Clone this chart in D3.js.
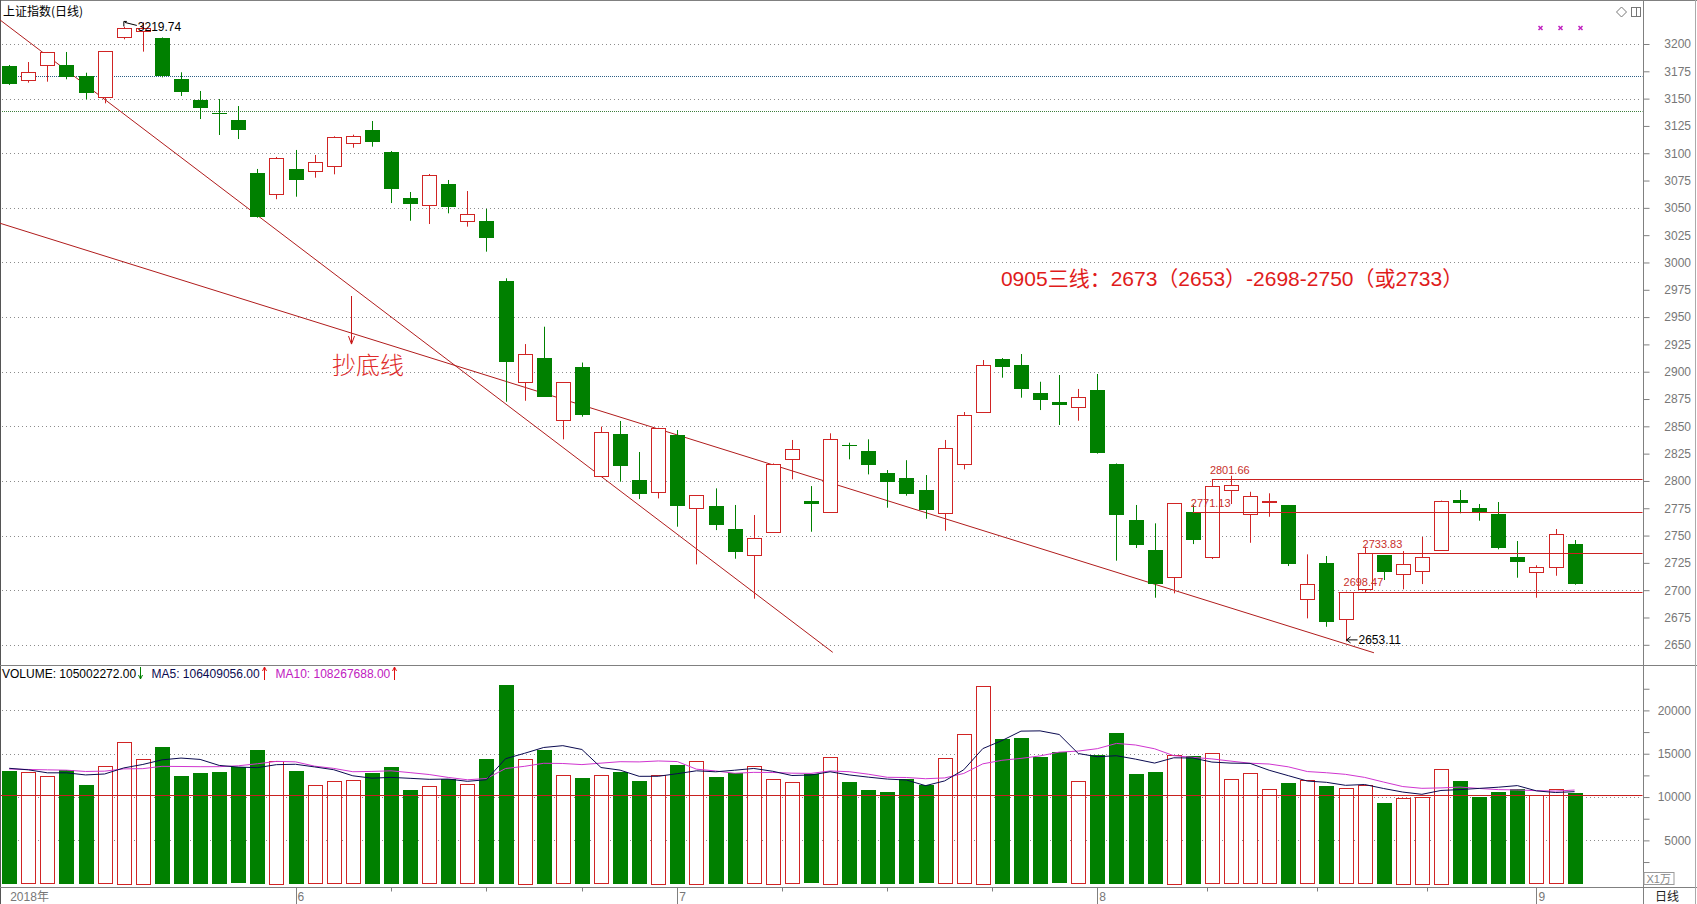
<!DOCTYPE html>
<html>
<head>
<meta charset="utf-8">
<script src="https://cdn.jsdelivr.net/npm/d3@7/dist/d3.min.js"></script>
<style>
body {margin:0; background:#fff;}
svg {display:block; font-family:"Liberation Sans", Arial, "Noto Sans CJK SC", sans-serif;}
</style>
</head>
<body>
<svg id="chart" width="1697" height="904"></svg>
<script>
// daily candles, 2018-05-11 .. 2018-09-05
const openP  = [3179.9,3166.8,3180.5,3180.8,3170.7,3151.2,3206.1,3211.9,3205.2,3167.7,
                3148.7,3136.5,3130.4,3081.9,3062.4,3085.6,3083.1,3088.1,3109.1,3121.3,
                3101.1,3059.0,3052.9,3071.8,3038.2,3038.0,2983.0,2889.9,2912.5,2855.5,
                2904.1,2804.5,2842.9,2800.8,2790.5,2842.0,2774.9,2777.0,2755.9,2731.9,
                2752.9,2819.8,2781.6,2771.3,2833.0,2827.4,2807.3,2802.7,2791.7,2770.4,
                2815.2,2862.8,2911.6,2906.1,2880.8,2872.5,2867.4,2883.2,2815.5,2764.2,
                2736.8,2711.8,2771.3,2730.1,2791.4,2769.4,2780.8,2778.0,2691.3,2724.6,
                2673.3,2700.8,2731.9,2715.4,2717.3,2736.5,2782.5,2775.2,2769.7,2730.6,
                2716.3,2720.9,2742.0];
const highP  = [3180.8,3183.5,3192.7,3192.7,3173.7,3193.6,3215.8,3219.74,3206.0,3174.1,
                3157.0,3149.6,3143.2,3085.6,3096.6,3103.0,3098.4,3115.5,3117.0,3129.5,
                3102.0,3064.5,3081.0,3075.5,3065.4,3049.0,2985.5,2925.3,2941.2,2890.3,
                2908.4,2849.7,2854.9,2826.5,2848.7,2846.6,2786.8,2793.2,2778.0,2768.8,
                2816.0,2837.5,2795.3,2843.6,2835.0,2838.1,2810.0,2819.0,2805.4,2837.5,
                2863.1,2910.7,2912.5,2916.2,2890.8,2897.0,2884.2,2897.9,2816.0,2778.0,
                2761.2,2779.5,2778.0,2801.66,2804.8,2790.1,2788.7,2778.0,2732.8,2731.3,
                2698.6,2739.8,2732.0,2735.8,2748.7,2782.0,2791.7,2778.9,2780.7,2745.0,
                2722.8,2756.0,2745.9];
const lowP   = [3162.5,3164.6,3165.5,3167.7,3149.4,3145.7,3204.3,3193.0,3169.5,3152.4,
                3131.3,3116.7,3113.0,3041.0,3057.9,3060.2,3077.6,3080.7,3105.0,3106.0,
                3054.4,3038.2,3035.2,3045.0,3032.8,3009.9,2872.5,2873.4,2877.0,2838.1,
                2858.8,2804.5,2799.3,2783.4,2784.0,2758.1,2723.6,2755.0,2728.8,2692.2,
                2752.9,2801.5,2753.5,2771.3,2819.8,2806.0,2775.5,2786.5,2765.4,2754.4,
                2810.6,2862.8,2894.5,2876.2,2864.9,2851.2,2855.1,2825.0,2727.0,2738.6,
                2693.1,2697.1,2742.2,2728.5,2778.9,2743.4,2767.2,2722.1,2674.2,2666.5,
                2653.11,2697.7,2709.3,2700.8,2705.6,2736.0,2770.4,2763.6,2737.4,2711.4,
                2693.1,2713.2,2705.0];
const closeP = [3163.7,3174.1,3192.4,3170.1,3155.4,3193.6,3214.4,3214.4,3170.1,3155.4,
                3141.7,3135.5,3121.3,3041.9,3095.4,3075.5,3091.7,3114.9,3115.8,3110.6,
                3067.5,3053.5,3080.1,3050.5,3044.4,3022.7,2908.6,2915.9,2877.1,2890.3,
                2860.2,2844.5,2813.9,2787.7,2848.7,2777.0,2786.8,2759.9,2735.2,2747.5,
                2815.2,2829.2,2778.6,2838.1,2831.9,2814.9,2799.3,2788.3,2773.4,2829.9,
                2860.4,2906.1,2904.6,2883.9,2874.7,2870.1,2876.5,2825.8,2769.1,2741.6,
                2705.6,2779.5,2745.3,2795.3,2796.3,2785.9,2781.3,2723.9,2705.4,2670.2,
                2698.47,2733.83,2716.0,2724.2,2730.1,2781.6,2779.5,2770.4,2738.9,2726.0,
                2720.9,2751.1,2705.0];
// volume, x1万
const volume = [13006,12855,12394,13121,11390,13548,16352,14390,15775,12429,
                12775,12890,13432,15429,14160,13006,11355,11817,11932,12775,
                13467,10813,11240,12082,11471,14390,22930,14390,15429,12509,
                12198,12509,12890,11852,12544,13698,14160,12313,12775,13548,
                12082,11701,12625,14621,11736,10813,10582,12082,11355,14467,
                17240,22815,16698,16814,14621,15163,11817,14852,17391,12659,
                12890,14852,14737,15048,12048,12740,10894,11621,11932,11309,
                11009,11355,9313,9890,10005,13236,11852,10005,10582,10928,
                10201,10894,10500];
// sessions before the first visible candle (only feed the moving averages)
const prevVolume = [13400,12800,13500,12900,13175,13730,14119,13121,12609];

const months = [
  {label:"2018年", start:0},
  {label:"6", start:15, len:20},
  {label:"7", start:35, len:22},
  {label:"8", start:57, len:23},
  {label:"9", start:80}
];
const priceTicks = d3.range(2650, 3201, 25);
const volTicks = d3.range(2500, 22501, 2500);
const refLines = [{p:3170.4, color:"#2d5f86"}, {p:3138.4, color:"#3d7f3d"}];

// drawn analysis: [index1, price1, index2, price2]
const trendLines = [[-0.48, 3222.0, 43.14, 2643.1], [-0.48, 3035.9, 71.49, 2642.7]];
const levels = [{p:2801.66, from:63, at:63}, {p:2771.13, from:62, at:62},
                {p:2733.83, from:70.63, at:71}, {p:2698.47, from:69.63, at:70}];
const volLevel = 10200;
const headText = "0905三线：2673（2653）-2698-2750（或2733）";
const headPos = {i:51.95, p:2978.4};
const bottomText = "抄底线";
const bottomPos = {i:16.91, p:2897.9};
const arrowPos = {i:17.9, p1:2969.3, p2:2925.3};

const W = 1697, H = 904;
const axisX = 1643.5, priceBottom = 665.5, volBottom = 887.5;

const svg = d3.select("#chart");
const x = d3.scaleLinear().domain([0, 82]).range([9.2, 1574.6]);
const yP = d3.scaleLinear().domain([2650, 3200]).range([644.8, 44]);
const yV = d3.scaleLinear().domain([0, 20000]).range([883.7, 710.4]);
const px = v => Math.round(v) + 0.5;

const RED = "#d02424", GREEN = "#008000", GRID = "#8c8c8c", AXIS = "#808080";
const candles = openP.map((o, i) => ({i, o, h: highP[i], l: lowP[i], c: closeP[i], v: volume[i]}));
const up = d => d.c > d.o;

// frame
svg.append("rect").attr("width", W).attr("height", H).attr("fill", "#fff");
const frame = svg.append("g").attr("stroke", AXIS).attr("fill", "none");
frame.append("line").attr("x1", 0).attr("x2", W).attr("y1", 0.5).attr("y2", 0.5);
frame.append("line").attr("x1", 0.5).attr("x2", 0.5).attr("y1", 0).attr("y2", H).attr("stroke", "#555");
frame.append("line").attr("x1", axisX).attr("x2", axisX).attr("y1", 0).attr("y2", H);
frame.append("line").attr("x1", 0).attr("x2", W).attr("y1", priceBottom).attr("y2", priceBottom);
frame.append("line").attr("x1", 0).attr("x2", W).attr("y1", volBottom).attr("y2", volBottom);
frame.append("line").attr("x1", W - 1.5).attr("x2", W - 1.5).attr("y1", 0).attr("y2", H).attr("stroke", "#aaa");

// grid
const grid = svg.append("g").attr("stroke-dasharray", "1,3").attr("stroke", GRID);
grid.selectAll("line.pg").data(priceTicks.filter(d => d % 50 === 0))
  .enter().append("line")
  .attr("x1", 2).attr("x2", axisX - 2)
  .attr("y1", d => px(yP(d))).attr("y2", d => px(yP(d)));
grid.selectAll("line.vg").data([5000, 10000, 15000, 20000])
  .enter().append("line").attr("class", "vg")
  .attr("x1", 2).attr("x2", axisX - 2)
  .attr("y1", d => px(yV(d))).attr("y2", d => px(yV(d)));
svg.append("g").selectAll("line").data(refLines).enter().append("line")
  .attr("x1", 2).attr("x2", axisX - 1)
  .attr("y1", d => px(yP(d.p))).attr("y2", d => px(yP(d.p)))
  .attr("stroke", d => d.color).attr("stroke-dasharray", "1,1");

// axes
const priceAxis = d3.axisRight(yP).tickValues(priceTicks).tickSize(6).tickPadding(15).tickSizeOuter(0)
  .tickFormat(d3.format("d"));
const gpa = svg.append("g").attr("transform", `translate(${axisX},0)`).call(priceAxis);
const volAxis = d3.axisRight(yV).tickValues(volTicks).tickSize(6).tickPadding(8).tickSizeOuter(0)
  .tickFormat(d => d % 5000 ? "" : d);
const gva = svg.append("g").attr("transform", `translate(${axisX},0)`).call(volAxis);
[gpa, gva].forEach(g => {
  g.select(".domain").remove();
  g.selectAll("line").attr("stroke", AXIS);
  g.selectAll("text").attr("fill", "#777").style("font-size", "12px")
    .attr("text-anchor", "end").attr("x", 1691 - axisX);
});

// date strip
const dg = svg.append("g");
months.forEach(m => {
  if (m.start > 0) dg.append("line").attr("x1", px(x(m.start))).attr("x2", px(x(m.start)))
    .attr("y1", volBottom).attr("y2", H).attr("stroke", AXIS);
  dg.append("text").attr("x", x(m.start) + (m.start ? 2 : 1)).attr("y", 901)
    .attr("fill", "#777").style("font-size", "12px").text(m.label);
  if (m.len) d3.range(1, 4).forEach(k => {
    const t = px(x(m.start + k * m.len / 4));
    dg.append("line").attr("x1", t).attr("x2", t).attr("y1", volBottom).attr("y2", volBottom + 4)
      .attr("stroke", AXIS);
  });
});
dg.append("text").attr("x", 1655).attr("y", 901).attr("fill", "#222").style("font-size", "12px").text("日线");
dg.append("rect").attr("x", axisX + 0.5).attr("y", 872.5).attr("width", 30).attr("height", 12)
  .attr("fill", "#fff").attr("stroke", "#999");
dg.append("text").attr("x", axisX + 3).attr("y", 883).attr("fill", "#888").style("font-size", "11px").text("X1万");

// trend lines
svg.append("g").selectAll("line").data(trendLines).enter().append("line")
  .attr("x1", d => x(d[0])).attr("y1", d => yP(d[1]))
  .attr("x2", d => x(d[2])).attr("y2", d => yP(d[3]))
  .attr("stroke", "#b01c1c").attr("stroke-width", 1);

// candles
const cg = svg.append("g");
cg.selectAll("line.wick").data(candles).enter().append("line")
  .attr("x1", d => px(x(d.i))).attr("x2", d => px(x(d.i)))
  .attr("y1", d => yP(d.h)).attr("y2", d => yP(d.l))
  .attr("stroke", d => up(d) ? RED : GREEN);
cg.selectAll("rect.body").data(candles).enter().append("rect")
  .attr("x", d => up(d) ? Math.round(x(d.i)) - 6.5 : Math.round(x(d.i)) - 7)
  .attr("width", d => up(d) ? 14 : 15)
  .attr("y", d => up(d) ? px(yP(d.c)) : Math.round(yP(d.o)))
  .attr("height", d => Math.max(1, Math.round(Math.abs(yP(d.o) - yP(d.c)))))
  .attr("fill", d => up(d) ? "#fff" : GREEN)
  .attr("stroke", d => up(d) ? RED : "none");

// levels
const lg = svg.append("g");
lg.selectAll("line").data(levels).enter().append("line")
  .attr("x1", d => x(d.from)).attr("x2", axisX - 1)
  .attr("y1", d => px(yP(d.p))).attr("y2", d => px(yP(d.p)))
  .attr("stroke", "#cc2020");
lg.selectAll("text").data(levels).enter().append("text")
  .attr("x", d => x(d.at) - 2).attr("y", d => yP(d.p) - 5.5)
  .attr("fill", "#c8302c").style("font-size", "11px").text(d => d.p.toFixed(2));

// high / low markers
const hiI = d3.maxIndex(highP), loI = d3.minIndex(lowP);
const hx = x(hiI), hy = yP(highP[hiI]);
svg.append("path").attr("d", `M${hx - 19},${hy + 4}V${hy - 1}h3M${hx - 18},${hy}L${hx - 6},${hy + 3}`)
  .attr("stroke", "#000").attr("fill", "none");
svg.append("text").attr("x", hx - 5).attr("y", hy + 9).style("font-size", "12px").attr("fill", "#000")
  .text(highP[hiI].toFixed(2));
const lx = x(loI), ly = yP(lowP[loI]) - 1.5;
svg.append("path").attr("d", `M${lx + 1},${ly}H${lx + 12}M${lx + 5},${ly - 3}L${lx + 1},${ly}L${lx + 5},${ly + 3}`)
  .attr("stroke", "#000").attr("fill", "none");
svg.append("text").attr("x", lx + 13).attr("y", ly + 4.5).style("font-size", "12px").attr("fill", "#000")
  .text(lowP[loI].toFixed(2));

// annotations
svg.append("text").attr("x", x(headPos.i)).attr("y", yP(headPos.p))
  .attr("fill", "#e01b1b").style("font-size", "21px").text(headText);
svg.append("text").attr("x", x(bottomPos.i)).attr("y", yP(bottomPos.p))
  .attr("fill", "#e02a2a").style("font-size", "24px").style("font-weight", "300")
  .style("font-family", "'Noto Sans CJK SC', sans-serif").text(bottomText);
const ax = px(x(arrowPos.i)), ay1 = yP(arrowPos.p1), ay2 = yP(arrowPos.p2);
svg.append("path").attr("d", `M${ax},${ay1}V${ay2}M${ax - 3},${ay2 - 8}L${ax},${ay2}L${ax + 3},${ay2 - 8}`)
  .attr("stroke", "#c81818").attr("fill", "none");

// volume bars
const vg = svg.append("g");
vg.selectAll("rect").data(candles).enter().append("rect")
  .attr("x", d => up(d) ? Math.round(x(d.i)) - 6.5 : Math.round(x(d.i)) - 7)
  .attr("width", d => up(d) ? 14 : 15)
  .attr("y", d => up(d) ? px(yV(d.v)) : Math.round(yV(d.v)))
  .attr("height", d => Math.round(yV(0) - yV(d.v)))
  .attr("fill", d => up(d) ? "#fff" : GREEN)
  .attr("stroke", d => up(d) ? RED : "none");
vg.append("line").attr("x1", 1).attr("x2", axisX - 1)
  .attr("y1", px(yV(volLevel))).attr("y2", px(yV(volLevel))).attr("stroke", "#c82020");

// moving averages of volume
const allVol = prevVolume.concat(volume);
const ma = n => volume.map((v, i) => d3.mean(allVol.slice(i + prevVolume.length - n + 1, i + prevVolume.length + 1)));
const maLine = d3.line().x((d, i) => x(i)).y(d => yV(d));
vg.append("path").attr("d", maLine(ma(10))).attr("fill", "none").attr("stroke", "#d035d0");
vg.append("path").attr("d", maLine(ma(5))).attr("fill", "none").attr("stroke", "#0a0a50");

// volume header
const head = [
  {t:"VOLUME: 105002272.00", c:"#000", arrow:"down", ac:GREEN},
  {t:"MA5: 106409056.00", c:"#0a0a50", arrow:"up", ac:"#e01010"},
  {t:"MA10: 108267688.00", c:"#c020c0", arrow:"up", ac:"#e01010"}
];
let hxPos = 2;
head.forEach(h => {
  const t = svg.append("text").attr("x", hxPos).attr("y", 678).attr("fill", h.c)
    .style("font-size", "12px").text(h.t);
  const w = t.node().getComputedTextLength();
  const a = Math.round(hxPos + w + 4) + 0.5;
  const d = h.arrow === "down"
    ? `M${a},667V679M${a - 2},675L${a},679L${a + 2},675`
    : `M${a},667V680M${a - 2},671L${a},667L${a + 2},671`;
  svg.append("path").attr("d", d).attr("stroke", h.ac).attr("fill", "none");
  hxPos = a + 11;
});

// title and corner marks
svg.append("text").attr("x", 3).attr("y", 16).style("font-size", "12px").attr("fill", "#000")
  .style("font-family", "'Noto Sans CJK SC', sans-serif").text("上证指数(日线)");
svg.append("path").attr("d", "M1621.5,7L1626.5,12L1621.5,17L1616.5,12Z").attr("fill", "none").attr("stroke", "#777");
svg.append("rect").attr("x", 1631.5).attr("y", 7.5).attr("width", 9).attr("height", 9).attr("fill", "none").attr("stroke", "#777");
svg.append("line").attr("x1", 1636.5).attr("x2", 1636.5).attr("y1", 7.5).attr("y2", 16.5).attr("stroke", "#777");
[1540.5, 1560.5, 1580.5].forEach(cx => {
  svg.append("path").attr("d", `M${cx - 2},26L${cx + 2},30M${cx + 2},26L${cx - 2},30`)
    .attr("stroke", "#c020c0").attr("stroke-width", 1.5);
});
</script>
</body>
</html>
